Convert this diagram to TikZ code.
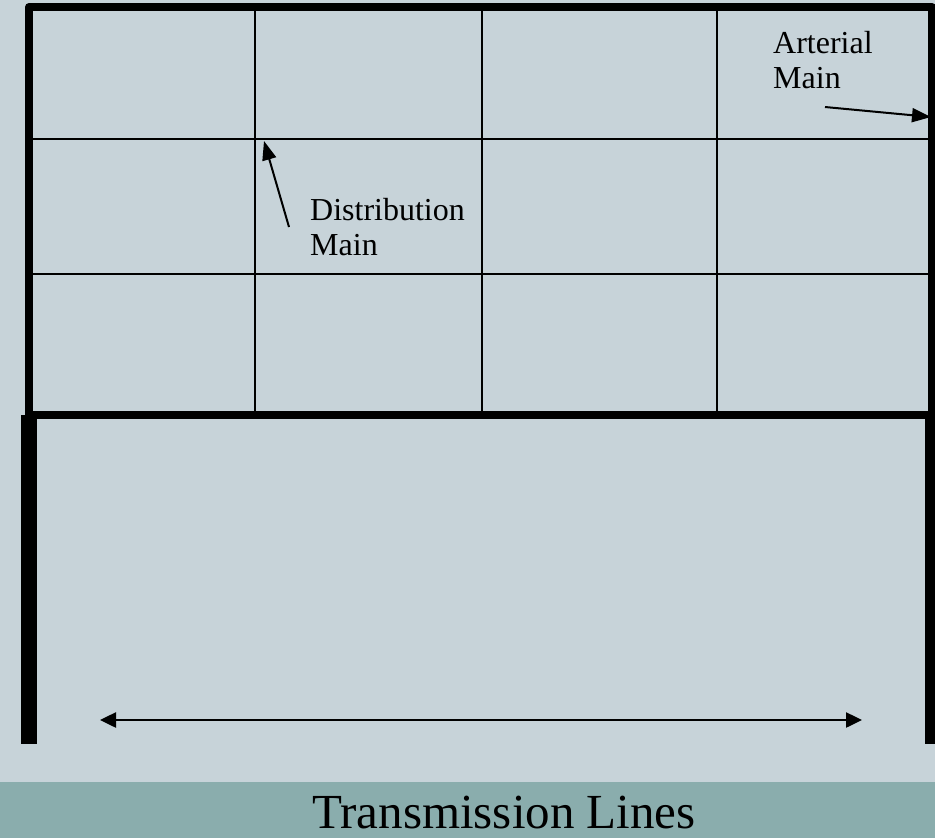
\documentclass[tikz,border=0pt]{standalone}
\usepackage{fontspec}
\setmainfont{Liberation Serif}
\usetikzlibrary{arrows.meta}
\definecolor{slidebg}{RGB}{199,211,217}
\definecolor{bandbg}{RGB}{138,173,173}
\tikzset{
  frame/.style={line width=8pt, line join=round},
  gridline/.style={line width=1.5pt},
  post/.style={line width=16pt},
  pointer/.style={line width=2pt, -{Triangle[length=19pt,width=14pt]}},
  span/.style={line width=2.5pt, {Triangle[length=16pt,width=15pt]}-{Triangle[length=16pt,width=15pt]}},
  label/.style={inner sep=0pt, anchor=base west, align=left,
    font=\fontsize{32}{35}\selectfont},
}
\begin{document}
\begin{tikzpicture}[x=1pt,y=-1pt]
  % page and footer band
  \fill[slidebg] (0,0) rectangle (935,838);
  \useasboundingbox (0,0) rectangle (935,838);
  \fill[bandbg] (0,782) rectangle (935,838);
  \node[inner sep=0pt, anchor=base, font=\fontsize{49}{52}\selectfont]
    (title) at (504,828) {Transmission Lines};

  % street grid
  \foreach \x in {255,482,717} \draw[gridline] (\x,7) -- (\x,415);
  \foreach \y in {139,274} \draw[gridline] (29,\y) -- (931,\y);

  % outer frame (arterial mains)
  \draw[frame] (29,7) rectangle (932,415);

  % transmission line posts
  \draw[post] (29,415) -- (29,744);
  \draw[post] (933,415) -- (933,744);

  % span arrow between the posts
  \coordinate (spanL) at (100,720);
  \coordinate (spanR) at (862,720);
  \draw[span] (spanL) -- (spanR);

  % labels with pointers (anchored at the baseline of the last line)
  \node[label] (dist) at (310,255) {Distribution\\Main};
  \coordinate (distTail) at (289,227);
  \coordinate (distTip) at (264,141);
  \draw[pointer] (distTail) -- (distTip);

  \node[label] (art) at (773,88) {Arterial\\Main};
  \coordinate (artTail) at (825,107);
  \coordinate (artTip) at (931,117);
  \draw[pointer] (artTail) -- (artTip);
\end{tikzpicture}
\end{document}
